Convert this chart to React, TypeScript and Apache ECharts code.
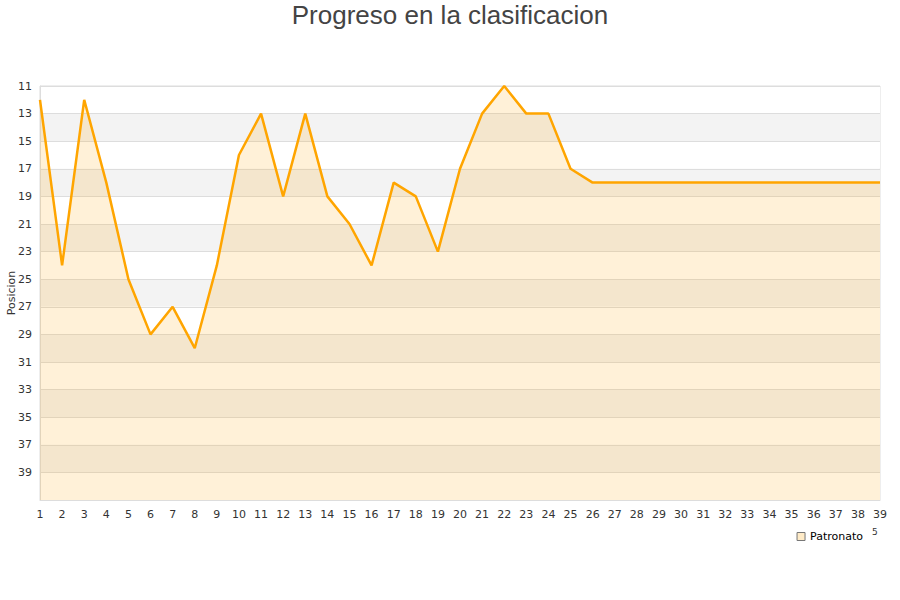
import React, { useEffect, useRef } from "react";
import * as echarts from "echarts";

const rounds: string[] = Array.from({ length: 39 }, (_, i) => String(i + 1));
const positions: number[] = [
  12, 24, 12, 18, 25, 29, 27, 30, 24, 16, 13, 19, 13, 19, 21, 24, 18, 19, 23, 17,
  13, 11, 13, 13, 17, 18, 18, 18, 18, 18, 18, 18, 18, 18, 18, 18, 18, 18, 18,
];
const seriesName = "Patronato";
const titleText = "Progreso en la clasificacion";
const yName = "Posicion";
const yMin = 11;
const yMax = 41;
const yStep = 2;

export default function App() {
  const ref = useRef<HTMLDivElement>(null);
  useEffect(() => {
    if (!ref.current) return;
    const chart = echarts.init(ref.current, null, { renderer: "svg" });
    const shift = yMin - Math.floor(yMin / yStep) * yStep; // 1
    chart.setOption({
      animation: false,
      title: {
        text: titleText,
        left: "center",
        top: -3,
        textStyle: {
          fontFamily: "Liberation Sans",
          fontSize: 26,
          fontWeight: "normal",
          color: "#444",
        },
      },
      legend: {
        data: [seriesName],
        right: 32,
        top: 526,
        icon: "rect",
        itemWidth: 8,
        itemHeight: 8,
        itemGap: 6,
        itemStyle: {
          color: "rgba(255,165,0,0.22)",
          borderColor: "#777",
          borderWidth: 1,
        },
        textStyle: { fontFamily: "DejaVu Sans", fontSize: 11, color: "#000" },
      },
      graphic: [
        {
          type: "text",
          x: 11,
          y: 293,
          rotation: Math.PI / 2,
          style: {
            text: yName,
            align: "center",
            verticalAlign: "middle",
            fontFamily: "DejaVu Sans",
            fontSize: 11,
            fill: "#333",
          },
        },
        {
          type: "text",
          left: 872,
          top: 527,
          style: { text: "5", fontFamily: "DejaVu Sans", fontSize: 9, fill: "#333" },
        },
      ],
      grid: {
        left: 40,
        right: 20,
        top: 86,
        bottom: 100,
        outerBoundsMode: "none",
        containLabel: false,
        show: true,
        borderColor: "#ddd",
        borderWidth: 1,
        backgroundColor: "transparent",
      },
      xAxis: {
        type: "category",
        data: rounds,
        boundaryGap: false,
        axisTick: { show: false },
        axisLine: { lineStyle: { color: "#ddd" } },
        axisLabel: {
          interval: 0,
          margin: 9,
          fontFamily: "DejaVu Sans",
          fontSize: 11,
          color: "#333",
        },
        splitLine: { show: false },
      },
      yAxis: {
        type: "value",
        inverse: true,
        min: yMin - shift,
        max: yMax - shift,
        interval: yStep,
        axisLine: { show: true, lineStyle: { color: "#ddd" } },
        axisTick: { show: false },
        axisLabel: {
          margin: 8,
          fontFamily: "DejaVu Sans",
          fontSize: 11,
          color: "#333",
          formatter: (v: number) => (v + shift >= yMax ? "" : String(v + shift)),
        },
        splitLine: { show: true, lineStyle: { color: "#ddd" } },
        splitArea: { show: true, areaStyle: { color: ["#ffffff", "#f3f3f3"] } },
      },
      series: [
        {
          name: seriesName,
          type: "line",
          data: positions.map((p) => p - shift),
          symbol: "none",
          lineStyle: { color: "#ffa500", width: 2.5 },
          itemStyle: { color: "rgba(255,165,0,0.22)" },
          areaStyle: { color: "rgba(255,165,0,0.22)", origin: "end" },
        },
      ],
    });
    return () => chart.dispose();
  }, []);
  return <div ref={ref} style={{ width: 900, height: 600, position: "absolute", left: 0, top: 0 }} />;
}
